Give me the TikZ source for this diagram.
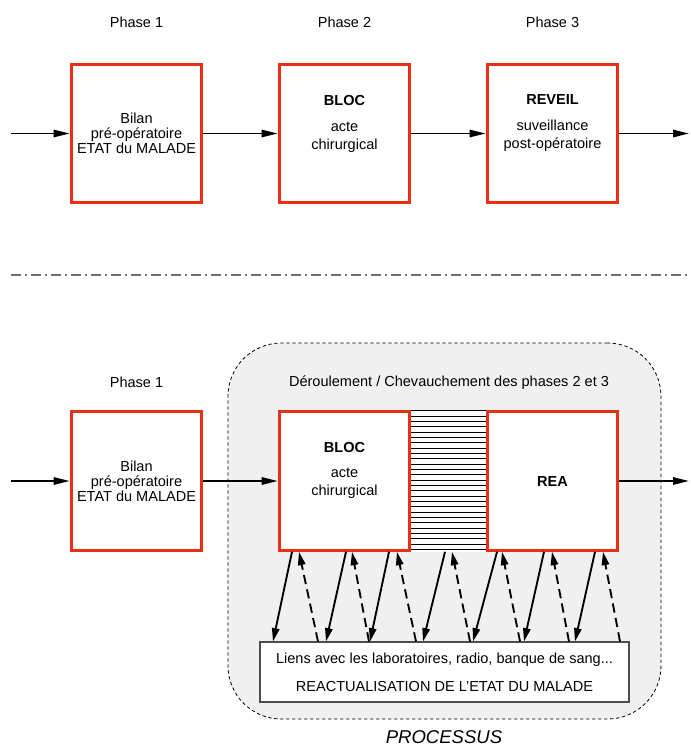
\documentclass[tikz,border=0pt]{standalone}
\usepackage{fontspec}
\setmainfont{Liberation Sans}
\usetikzlibrary{arrows.meta}
\definecolor{boxred}{RGB}{232,48,22}
\definecolor{areagray}{RGB}{240,240,240}
\definecolor{sepgray}{RGB}{110,110,110}

\begin{document}
\begin{tikzpicture}[x=0.75pt,y=-0.75pt,
    font=\fontsize{10.9}{11.25}\selectfont,
    phasebox/.style={draw=boxred, line width=2.2pt, fill=white, minimum width=98pt,
      minimum height=104pt, inner sep=0pt, align=center},
    boxtext/.style={align=center, inner sep=0pt},
    flow/.style={-{Triangle[length=12pt,width=5.5pt]}, line width=1.4pt},
    down/.style={-{Triangle[length=10pt,width=5.5pt]}, line width=1.4pt},
    up/.style={down, dash pattern=on 7pt off 4pt},
    sepline/.style={draw=sepgray, line width=1.3pt, dash pattern=on 7.5pt off 3pt on 1.5pt off 3pt},
    procarea/.style={draw=black, line width=0.6pt, dash pattern=on 2.5pt off 2pt,
      fill=areagray, rounded corners=40pt, minimum width=324.75pt, minimum height=282pt},
    hatchline/.style={draw=black, line width=0.7pt}
  ]
  \useasboundingbox (0,0) rectangle (690,747);

  % sequential phases
  \node (ph1) at (136.5,22) {Phase 1};
  \node (ph2) at (344.5,22) {Phase 2};
  \node (ph3) at (552.5,22) {Phase 3};

  \node[phasebox] (bilan) at (136.5,133.5) {Bilan\\pr\'e-op\'eratoire\\ETAT du MALADE};
  \node[phasebox] (bloc) at (344.5,133.5) {};
  \node[phasebox] (reveil) at (552.5,133.5) {};
  \node[boxtext] (blocTxt) at (344.5,123.5) {\textbf{BLOC}\\[8.25pt]acte\\[2.25pt]chirurgical};
  \node[boxtext] (reveilTxt) at (552.5,123.5) {\textbf{REVEIL}\\[8.25pt]suveillance\\[2.25pt]post-op\'eratoire};

  \coordinate (in1) at (11,133.5);
  \coordinate (out1) at (689,133.5);
  \draw[flow] (in1) -- (bilan);
  \draw[flow] (bilan) -- (bloc);
  \draw[flow] (bloc) -- (reveil);
  \draw[flow] (reveil) -- (out1);

  % separator
  \coordinate (sepL) at (11,275);
  \coordinate (sepR) at (690,275);
  \draw[sepline] (sepL) -- (sepR);

  % overlapping phases
  \node[procarea] (proc) at (444.5,531) {};
  \node (proclbl) at (449,383) {D\'eroulement / Chevauchement des phases 2 et 3};
  \node[font=\fontsize{13.9}{15}\selectfont\itshape] (procTitle) at (444,737) {PROCESSUS};
  \node (ph1b) at (136.5,382) {Phase 1};

  \node[phasebox] (bilan2) at (136.5,481) {Bilan\\pr\'e-op\'eratoire\\ETAT du MALADE};
  \node[phasebox] (bloc2) at (344.5,481) {};
  \node[phasebox] (rea2) at (552.5,481) {\textbf{REA}};
  \node[boxtext] (bloc2Txt) at (344.5,470.5) {\textbf{BLOC}\\[7pt]acte\\[2.25pt]chirurgical};

  % overlap hatching
  \coordinate (hatchNW) at (bloc2.north east);
  \coordinate (hatchNE) at (rea2.north west);
  \fill[white] (hatchNW) rectangle (rea2.south west);
  \foreach \k in {0,...,26}
    \draw[hatchline] ([yshift=-\k*4pt-0.5pt]hatchNW) -- ([yshift=-\k*4pt-0.5pt]hatchNE);

  \coordinate (in2) at (11,481);
  \coordinate (out2) at (689,481);
  \draw[flow] (in2) -- (bilan2);
  \draw[flow] (bilan2) -- (bloc2);
  \draw[flow] (rea2) -- (out2);

  \node[draw=gray!60!black, line width=0.8pt, fill=white, minimum width=276.75pt,
    minimum height=45pt, align=center] (liens) at (444.5,672)
    {Liens avec les laboratoires, radio, banque de sang...\\[9.75pt]REACTUALISATION DE L'ETAT DU MALADE};

  % exchanges with the services
  \foreach \a/\b in {292/273,346/326,389/370,445/423,497/473,544/524,595/575}
    \draw[down] (\a,0 |- bloc2.south) -- (\b,0 |- liens.north);
  \foreach \a/\b in {318/299,369/352,416/397,470/452,520/502,569/552,620/603}
    \draw[up] (\a,0 |- liens.north) -- (\b,0 |- bloc2.south);
\end{tikzpicture}
\end{document}
